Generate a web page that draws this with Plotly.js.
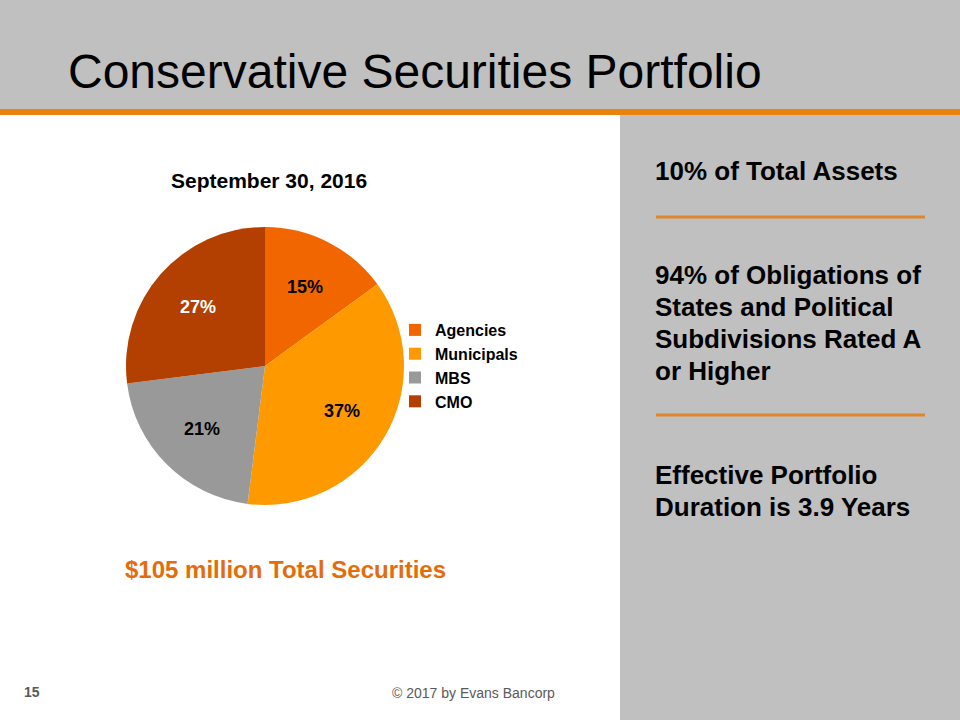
<!DOCTYPE html>
<html>
<head>
<meta charset="utf-8">
<script src="https://cdn.plot.ly/plotly-3.0.1.min.js"></script>
<style>html,body{margin:0;padding:0;background:#fff;}#chart{width:960px;height:720px;}</style>
</head>
<body>
<div id="chart"></div>
<script>
const categories = ["Agencies", "Municipals", "MBS", "CMO"];
const shares = [15, 37, 21, 27];
const sliceColors = ["#F26600", "#FF9900", "#999999", "#B33F00"];
const labelColors = ["#000000", "#000000", "#000000", "#FFFFFF"];
const chartTitle = "September 30, 2016";
const slideTitle = "Conservative Securities Portfolio";
const totalNote = "$105 million Total Securities";
const sideBlocks = [
  ["10% of Total Assets"],
  ["94% of Obligations of", "States and Political", "Subdivisions Rated A", "or Higher"],
  ["Effective Portfolio", "Duration is 3.9 Years"]
];
const pageNo = "15";
const copyright = "© 2017 by Evans Bancorp";

const W = 960, H = 720;
const px = x => x / W;
const py = y => 1 - y / H;
const FONT = "Arial, 'Liberation Sans', sans-serif";

const cx = 265, cy = 366, r = 139;

const trace = {
  type: "pie",
  labels: categories,
  values: shares,
  sort: false,
  direction: "clockwise",
  rotation: 0,
  marker: { colors: sliceColors, line: { width: 0 } },
  textinfo: "none",
  hoverinfo: "label+percent",
  domain: { x: [px(cx - r), px(cx + r)], y: [py(cy + r), py(cy - r)] }
};

const annotations = [
  { text: slideTitle, x: px(66), y: py(72), xanchor: "left", yanchor: "middle",
    font: { family: FONT, size: 48, color: "#000" } },
  { text: "<b>" + chartTitle + "</b>", x: px(269), y: py(180), xanchor: "center", yanchor: "middle",
    font: { family: FONT, size: 21, color: "#000" } },
  { text: "<b>" + totalNote + "</b>", x: px(285), y: py(569), xanchor: "center", yanchor: "middle",
    font: { family: FONT, size: 24, color: "#E46C0A" } },
  { text: "<b>" + pageNo + "</b>", x: px(22), y: py(692), xanchor: "left", yanchor: "middle",
    font: { family: FONT, size: 14, color: "#595959" } },
  { text: copyright, x: px(390), y: py(693), xanchor: "left", yanchor: "middle",
    font: { family: FONT, size: 14, color: "#595959" } }
];

// slice labels placed along each slice's mid-angle (derived from the values)
const total = shares.reduce((a, b) => a + b, 0);
let cum = 0;
shares.forEach((v, i) => {
  const mid = (cum + v / 2) / total * 2 * Math.PI;
  cum += v;
  const rr = 0.64 * r;
  annotations.push({ text: "<b>" + v + "%</b>", x: px(cx + rr * Math.sin(mid)), y: py(cy - rr * Math.cos(mid)),
    xanchor: "center", yanchor: "middle", font: { family: FONT, size: 18, color: labelColors[i] } });
});

const blockTops = [171, 275, 475];
const lineGap = 32;
sideBlocks.forEach((lines, b) => {
  lines.forEach((ln, i) => {
    annotations.push({ text: "<b>" + ln + "</b>", x: px(653), y: py(blockTops[b] + i * lineGap),
      xanchor: "left", yanchor: "middle", font: { family: FONT, size: 26, color: "#000" } });
  });
});
annotations.forEach(a => { a.xref = "paper"; a.yref = "paper"; a.showarrow = false; });

const shapes = [
  { type: "rect", x0: 0, x1: 1, y0: py(109), y1: 1, fillcolor: "#C0C0C0", line: { width: 0 }, layer: "below" },
  { type: "rect", x0: px(620), x1: 1, y0: 0, y1: py(109), fillcolor: "#C0C0C0", line: { width: 0 }, layer: "below" },
  { type: "rect", x0: 0, x1: 1, y0: py(115), y1: py(109), fillcolor: "#E8830E", line: { width: 0 }, layer: "below" },
  { type: "line", x0: px(656), x1: px(925), y0: py(217), y1: py(217), line: { color: "#E0862A", width: 3 } },
  { type: "line", x0: px(656), x1: px(925), y0: py(415), y1: py(415), line: { color: "#E0862A", width: 3 } }
];
shapes.forEach(s => { s.xref = "paper"; s.yref = "paper"; });

const layout = {
  width: W, height: H,
  margin: { l: 0, r: 0, t: 0, b: 0 },
  paper_bgcolor: "#FFFFFF",
  showlegend: true,
  legend: {
    x: px(395), y: py(313), xanchor: "left", yanchor: "top",
    font: { family: FONT, size: 16, color: "#000", weight: "bold" },
    bgcolor: "rgba(0,0,0,0)", itemclick: false
  },
  annotations: annotations,
  shapes: shapes
};

Plotly.newPlot("chart", [trace], layout, { displayModeBar: false, staticPlot: true });
</script>
</body>
</html>
